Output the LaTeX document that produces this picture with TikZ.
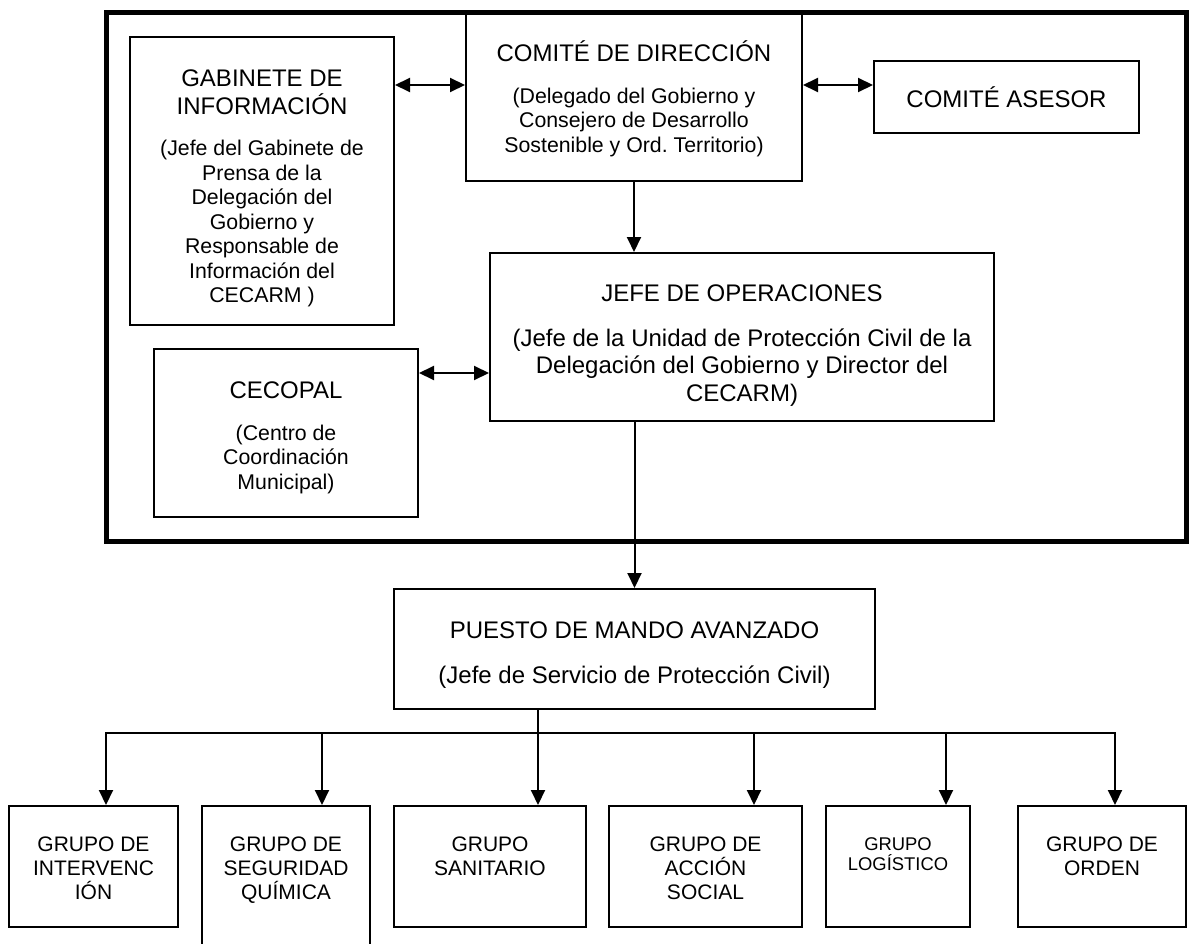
\documentclass[tikz,border=0pt]{standalone}
\usepackage{fontspec}
\setmainfont{Liberation Sans}
\usetikzlibrary{calc,arrows.meta}
\setlength{\parindent}{0pt}
\newcommand{\titulo}[1]{{\fontsize{24}{27.6}\selectfont #1\par}\vspace{17pt}}
\newcommand{\detalle}[1]{{\fontsize{21.3}{24.5}\selectfont #1\par}}
\newcommand{\detalleg}[1]{{\fontsize{24}{27.6}\selectfont #1\par}}
\newcommand{\bajar}[1]{\par\kern-#1\relax}
\tikzset{
  caja/.style={draw, line width=2pt, inner sep=0pt, align=flush center},
  grupo/.style={draw, line width=2pt, inner sep=0pt, anchor=north, minimum height=121pt},
  gtexto/.style={anchor=north, yshift=-32pt, inner sep=0pt, align=center,
    font=\fontsize{21}{24}\selectfont},
  flecha/.style={-{Triangle[length=15pt,width=14pt]}, line width=2pt},
  doble/.style={{Triangle[length=15pt,width=14pt]}-{Triangle[length=15pt,width=14pt]}, line width=2pt},
  marco/.style={line width=5pt}
}
\begin{document}
\begin{tikzpicture}[x=1pt,y=-1pt]
    \useasboundingbox (0,0) rectangle (1193,944);
    \clip (0,0) rectangle (1193,944);
    % recuadro del CECOP
    \draw[marco] (106,13) rectangle (1186,541);

    \node[caja, text width=264pt, minimum height=288pt] (gabinete) at (262,181)
        {\titulo{GABINETE DE\\INFORMACIÓN}\detalle{(Jefe del Gabinete de\\Prensa de la\\Delegación del\\Gobierno y\\Responsable de\\Información del\\CECARM )}\bajar{15pt}};
    \node[caja, text width=336pt, minimum height=167pt] (comite) at (634,97.5)
        {\titulo{COMITÉ DE DIRECCIÓN}\detalle{(Delegado del Gobierno y\\Consejero de Desarrollo\\Sostenible y Ord.\ Territorio)}\bajar{3pt}};
    \node[caja, text width=265pt, minimum height=72pt, font=\fontsize{24}{27.6}\selectfont] (asesor) at (1006.5,97)
        {COMITÉ ASESOR};
    \node[caja, text width=504pt, minimum height=168pt] (jefe) at (742,337)
        {\titulo{JEFE DE OPERACIONES}\detalleg{(Jefe de la Unidad de Protección Civil de la\\Delegación del Gobierno y Director del\\CECARM)}\bajar{17pt}};
    \node[caja, text width=264pt, minimum height=168pt] (cecopal) at (286,433)
        {\titulo{CECOPAL}\detalle{(Centro de\\Coordinación\\Municipal)}\bajar{10pt}};
    \node[caja, text width=481pt, minimum height=120pt] (pma) at (634.5,649)
        {\titulo{PUESTO DE MANDO AVANZADO}\detalleg{(Jefe de Servicio de Protección Civil)}\bajar{12pt}};

    % grupos de acción
    \node[grupo, minimum width=169pt, label={[gtexto]north:GRUPO DE\\INTERVENC\\IÓN}] (interv) at (93.5,805) {};
    \node[grupo, minimum width=168pt, minimum height=150pt, label={[gtexto]north:GRUPO DE\\SEGURIDAD\\QUÍMICA}] (seguridad) at (286,805) {};
    \node[grupo, minimum width=192pt, label={[gtexto]north:GRUPO\\SANITARIO}] (sanitario) at (490,805) {};
    \node[grupo, minimum width=193pt, label={[gtexto]north:GRUPO DE\\ACCIÓN\\SOCIAL}] (accion) at (705.5,805) {};
    \node[grupo, minimum width=144pt, label={[gtexto, font=\fontsize{18.4}{20}\selectfont]north:GRUPO\\LOGÍSTICO}] (logistico) at (898,805) {};
    \node[grupo, minimum width=168pt, label={[gtexto]north:GRUPO DE\\ORDEN}] (orden) at (1102,805) {};

    \coordinate (c1) at ($(comite.west)+(0,-12.5)$);
    \coordinate (c2) at ($(jefe.west)+(0,36)$);
    \coordinate (p) at ($(pma.south)+(-96.5,0)$);
    \draw[doble] (gabinete.east |- c1) -- (c1);
    \draw[doble] (comite.east |- c1) -- (asesor.west |- c1);
    \draw[doble] (cecopal.east |- c2) -- (c2);
    \draw[flecha] (comite.south) -- (comite.south |- jefe.north);
    \draw[flecha] (pma.north |- jefe.south) -- (pma.north);
    \draw[flecha] (p) -- (p |- sanitario.north);
    \draw[doble] ($(interv.north)+(12.5,0)$) |- ($(orden.north)+(13,-72)$) -- ($(orden.north)+(13,0)$);
    \foreach \g/\d in {seguridad/36, accion/48.5, logistico/48}
    {
        \draw[flecha] ($(\g.north)+(\d,-72)$) -- ($(\g.north)+(\d,0)$);
    }
\end{tikzpicture}
\end{document}
